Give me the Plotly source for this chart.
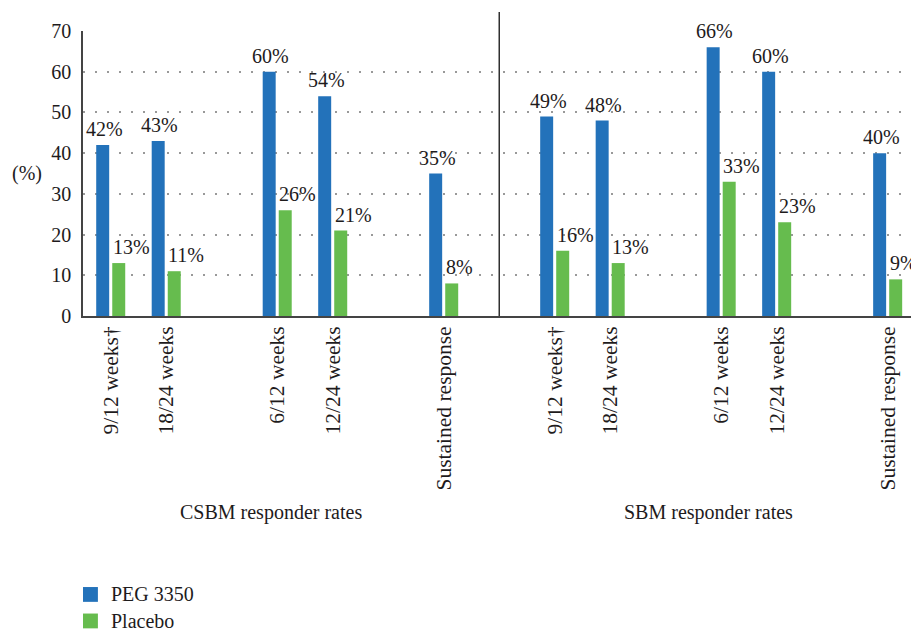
import plotly.graph_objects as go

# Responder rates (%) by endpoint
panels = ["CSBM responder rates", "SBM responder rates"]
categories = ["9/12 weeks†", "18/24 weeks", "6/12 weeks", "12/24 weeks", "Sustained response"]
peg_csbm = [42, 43, 60, 54, 35]
placebo_csbm = [13, 11, 26, 21, 8]
peg_sbm = [49, 48, 66, 60, 40]
placebo_sbm = [16, 13, 33, 23, 9]
series_names = ["PEG 3350", "Placebo"]
y_ticks = [0, 10, 20, 30, 40, 50, 60, 70]

FONT = "Liberation Serif"
TEXT = "#1E1B1C"
BLUE = "#2372BA"
GREEN = "#66BC4E"

# slot layout: blank slot before the 3rd and 5th category, and between panels
breaks_before = {2, 4}
panel_slots = []
s = 0
for i in range(len(categories)):
    if i in breaks_before:
        s += 1
    panel_slots.append(s)
    s += 1
panel_span = s + 1  # one blank slot between panels

x_pos, x_lab = [], []
for p in range(len(panels)):
    for i, c in enumerate(categories):
        x_pos.append(panel_slots[i] + p * panel_span)
        x_lab.append(c)

peg = peg_csbm + peg_sbm
placebo = placebo_csbm + placebo_sbm

BW = 0.234
OFF_PEG = -0.262
OFF_PLA = 0.027

fig = go.Figure()
fig.add_trace(go.Bar(x=x_pos, y=peg, name=series_names[0], marker_color=BLUE,
                     width=BW, offset=OFF_PEG, marker_line_width=0, showlegend=False))
fig.add_trace(go.Bar(x=x_pos, y=placebo, name=series_names[1], marker_color=GREEN,
                     width=BW, offset=OFF_PLA, marker_line_width=0, showlegend=False))

annotations = []
for x, v in zip(x_pos, peg):
    annotations.append(dict(x=x + OFF_PEG + BW / 2 + 0.03, y=v, text=f"{v}%", showarrow=False,
                            xanchor="center", yanchor="bottom", yshift=3,
                            font=dict(family=FONT, size=20, color=TEXT)))
for x, v in zip(x_pos, placebo):
    annotations.append(dict(x=x + OFF_PLA - 0.03, y=v, text=f"{v}%", showarrow=False,
                            xanchor="left", yanchor="bottom", yshift=3,
                            font=dict(family=FONT, size=20, color=TEXT)))

# axis unit label
annotations.append(dict(xref="paper", x=-0.068, y=35, text="(%)", showarrow=False,
                        xanchor="center", yanchor="middle",
                        font=dict(family=FONT, size=20, color=TEXT)))

# panel titles
for p, title in enumerate(panels):
    centre = (panel_slots[0] + panel_slots[-1]) / 2 + p * panel_span - 0.12 - 0.1 * p
    annotations.append(dict(x=centre, yref="paper", y=-0.688, text=title, showarrow=False,
                            xanchor="center", yanchor="middle",
                            font=dict(family=FONT, size=20, color=TEXT)))

shapes = [dict(type="line", xref="x", yref="paper",
               x0=panel_span - 1, x1=panel_span - 1, y0=0, y1=1.067,
               line=dict(color="#111", width=1.3))]

# legend: square swatch + label per series
for k, (name, col) in enumerate(zip(series_names, [BLUE, GREEN])):
    yc = -0.977 - k * 0.093
    shapes.append(dict(type="rect", xref="paper", yref="paper",
                       x0=0.0, x1=0.018, y0=yc - 0.026, y1=yc + 0.026,
                       fillcolor=col, line=dict(width=0)))
    annotations.append(dict(xref="paper", yref="paper", x=0.031, y=yc, text=name,
                            showarrow=False, xanchor="left", yanchor="middle",
                            font=dict(family=FONT, size=20, color=TEXT)))

fig.update_layout(
    width=911, height=631,
    margin=dict(l=83, r=0, t=31, b=315, autoexpand=False),
    paper_bgcolor="white", plot_bgcolor="white",
    barmode="overlay",
    font=dict(family=FONT, size=20, color=TEXT),
    showlegend=False,
    annotations=annotations,
    shapes=shapes,
    xaxis=dict(range=[-0.5, 14.42], tickmode="array", tickvals=x_pos, ticktext=x_lab,
               tickangle=-90, ticks="", showgrid=False, zeroline=False,
               showline=True, linecolor="#444", linewidth=1.5,
               ticklabelstandoff=0, automargin=False,
               tickfont=dict(family=FONT, size=21.5, color=TEXT)),
    yaxis=dict(range=[0, 70], tickmode="array", tickvals=y_ticks,
               ticks="", showgrid=True, gridcolor="#999", gridwidth=1.5,
               griddash="2px,10px", zeroline=False,
               showline=True, linecolor="#444", linewidth=1.5,
               ticklabelstandoff=6, automargin=False,
               tickfont=dict(family=FONT, size=20, color=TEXT)),
)

fig.write_html("out.html")
